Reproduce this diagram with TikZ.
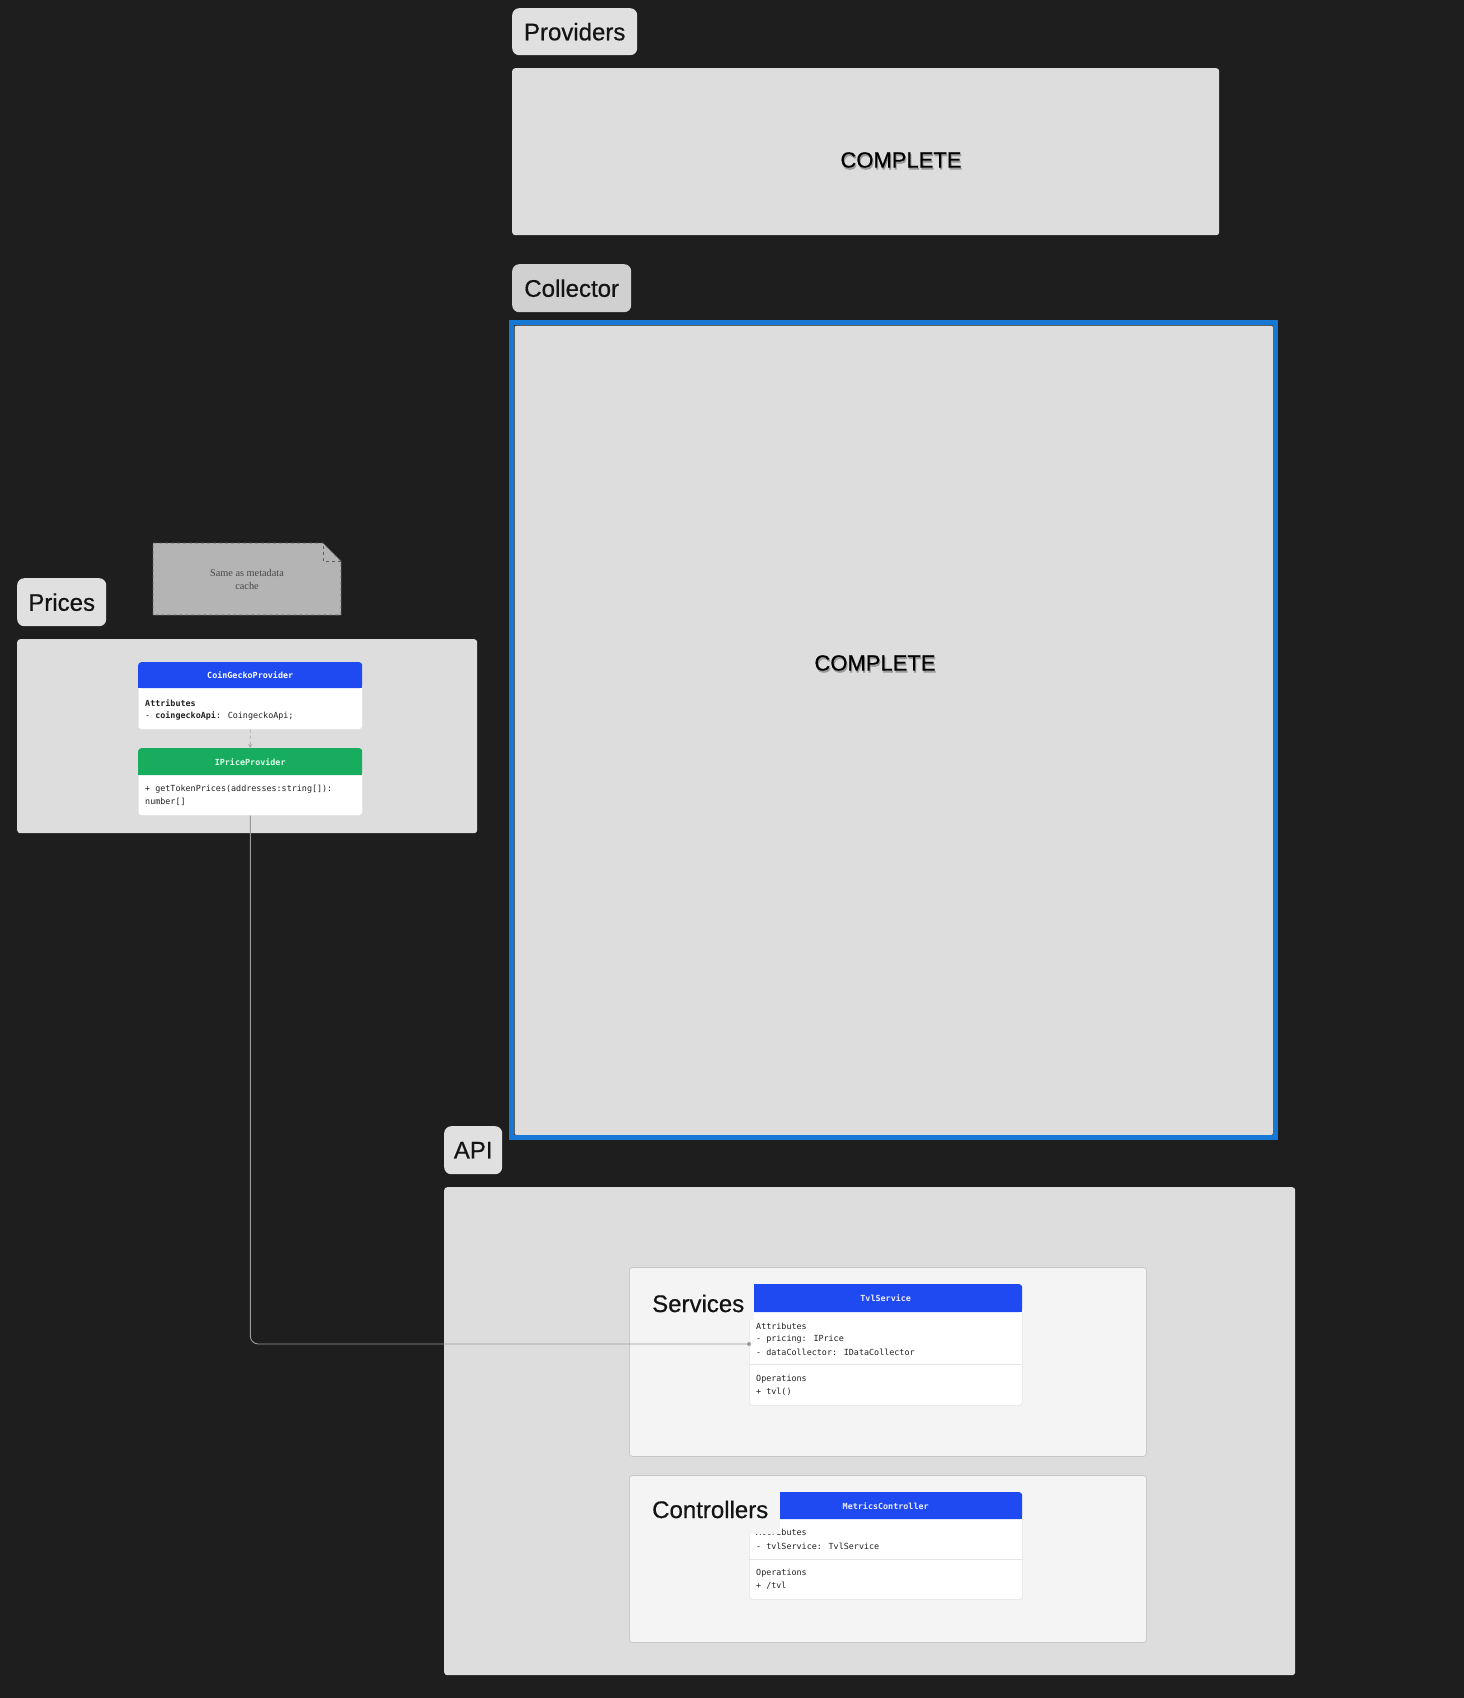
\documentclass[tikz,border=0pt]{standalone}
\usepackage{fontspec}
\setmainfont{Liberation Sans}
\newfontfamily\labelfont{Liberation Sans}[FakeBold=0.6]
\newfontfamily\monofont{DejaVu Sans Mono}
\newfontfamily\notefont{Liberation Serif}
\usetikzlibrary{arrows.meta}
\definecolor{bg}{HTML}{1E1E1E}
\definecolor{panel}{HTML}{DDDDDD}
\definecolor{labA}{HTML}{E0E0E0}
\definecolor{labB}{HTML}{D0D0D0}
\definecolor{selblue}{HTML}{1777D4}
\definecolor{hblue}{HTML}{1F4AF2}
\definecolor{hgreen}{HTML}{18AD5E}
\definecolor{notefill}{HTML}{B4B4B4}
\definecolor{noteline}{HTML}{5E5E5E}
\definecolor{subpanel}{HTML}{F4F4F4}
\definecolor{subline}{HTML}{C8C8C8}
\definecolor{wire}{HTML}{9A9A9A}
\definecolor{umlline}{HTML}{E4E4E4}
\definecolor{mint}{HTML}{DDFFEB}
\definecolor{txt}{HTML}{222222}
\tikzset{
  labelbox/.style={fill=#1, rounded corners=7pt, inner sep=0pt, anchor=north west,
    font=\labelfont\fontsize{24}{28}\selectfont, text=black!92},
  panelbox/.style={fill=panel, rounded corners=3pt, inner sep=0pt, anchor=north west},
  subbox/.style={fill=subpanel, draw=subline, line width=0.8pt, rounded corners=3pt, inner sep=0pt, anchor=north west},
  umlhead/.style={fill=#1, rounded corners=3pt, inner sep=0pt, anchor=north west,
    font=\monofont\bfseries\fontsize{8.4}{10}\selectfont},
  umlbody/.style={fill=white, draw=umlline, line width=0.6pt, rounded corners=3pt, inner sep=0pt, anchor=north west},
  mono/.style={font=\monofont\fontsize{8.4}{10}\selectfont, anchor=west, inner sep=0pt, text=txt},
  bigtext/.style={font=\labelfont\fontsize{24}{28}\selectfont, anchor=base west, inner sep=0pt, text=black!92},
  completetext/.style={font=\labelfont\fontsize{22}{26}\selectfont, inner sep=0pt},
  wireline/.style={draw=wire, line width=0.9pt},
}
\begin{document}
\begin{tikzpicture}[x=1pt,y=-1pt]
\fill[bg] (0,0) rectangle (1464,1698);
\useasboundingbox (0,0) rectangle (1464,1698);

% ---------- Providers ----------
\node[labelbox=labA, minimum width=125pt, minimum height=47pt] (provlab) at (512,8) {Providers};
\node[panelbox, minimum width=707pt, minimum height=167pt] (prov) at (512,68) {};
\node[completetext, text=black!50, opacity=0.7] at (902,162) {COMPLETE};
\node[completetext] (provtxt) at (901,160) {COMPLETE};

% ---------- Collector ----------
\node[labelbox=labB, minimum width=119pt, minimum height=48pt] (colllab) at (512,264) {Collector};
\node[panelbox, draw=black!75, line width=0.6pt, rounded corners=2pt, minimum width=759pt, minimum height=810pt] (coll) at (514,325) {};
\node[draw=selblue, line width=5pt, inner sep=0pt, minimum width=764pt, minimum height=815pt] (collsel) at (coll.center) {};
\node[completetext, text=black!50, opacity=0.7] at (876,665) {COMPLETE};
\node[completetext] (colltxt) at (875,663) {COMPLETE};

% ---------- Prices ----------
\node[labelbox=labA, minimum width=89pt, minimum height=48pt] (pricelab) at (17,578) {Prices};
\node[panelbox, minimum width=460pt, minimum height=194pt] (prices) at (17,639) {};

% note
\path[fill=notefill, draw=noteline, dashed, line width=0.8pt]
  (153,543) -- (323,543) -- (341,561) -- (341,615) -- (153,615) -- cycle;
\draw[noteline, dashed, line width=0.8pt] (323,546) -- (323,561) -- (341,561);
\node[font=\notefont\fontsize{10.3}{13}\selectfont, text=black!72, align=center, inner sep=0pt] (note) at (247,579.5) {Same as metadata\\cache};

% CoinGeckoProvider
\node[umlbody, minimum width=224pt, minimum height=45pt] (cgbody) at (138,684) {};
\node[umlhead=hblue, minimum width=224pt, minimum height=26pt] (cghead) at (138,662) {};
\fill[hblue] (cghead.west) rectangle (cghead.south east);
\node[font=\monofont\bfseries\fontsize{8.4}{10}\selectfont, text=white, inner sep=0pt] at (cghead.center) {CoinGeckoProvider};
\node[mono, font=\monofont\bfseries\fontsize{8.4}{10}\selectfont] (cga1) at (145,703) {Attributes};
\node[mono] (cga2) at (145,716) {- \textbf{coingeckoApi}: CoingeckoApi;};

% IPriceProvider
\node[umlbody, minimum width=224pt, minimum height=44pt] (ipbody) at (138,771) {};
\node[umlhead=hgreen, minimum width=224pt, minimum height=27pt] (iphead) at (138,748) {};
\fill[hgreen] (iphead.west) rectangle (iphead.south east);
\node[font=\monofont\bfseries\fontsize{8.4}{10}\selectfont, text=mint, inner sep=0pt] at (iphead.center) {IPriceProvider};
\node[mono] (ipo1) at (145,789) {+ getTokenPrices(addresses:string[]):};
\node[mono] (ipo2) at (145,802) {number[]};

\draw[draw=black!35, dashed, line width=0.8pt, -{Stealth[length=4pt,width=4pt]}] (cgbody.south) -- (iphead.north);

% ---------- API ----------
\node[labelbox=labA, minimum width=58pt, minimum height=48pt] (apilab) at (444,1126) {API};
\node[panelbox, minimum width=851pt, minimum height=488pt] (api) at (444,1187) {};

% Services
\node[subbox, minimum width=517pt, minimum height=189pt] (services) at (629,1267) {};
\node[umlbody, minimum width=273pt, minimum height=95pt] (tvlbody) at (749,1310) {};
\node[umlhead=hblue, minimum width=273pt, minimum height=28pt] (tvlhead) at (749,1284) {};
\fill[hblue] (tvlhead.west) rectangle (tvlhead.south east);
\node[font=\monofont\bfseries\fontsize{8.4}{10}\selectfont, text=white!92!blue, inner sep=0pt] at (tvlhead.center) {TvlService};
\draw[umlline, line width=0.8pt] (749,1364) -- (1022,1364);
\node[mono] (tvla1) at (756,1326) {Attributes};
\node[mono] (tvla2) at (756,1339) {- pricing: IPrice};
\node[mono] (tvla3) at (756,1352) {- dataCollector: IDataCollector};
\node[mono] (tvlo1) at (756,1379) {Operations};
\node[mono] (tvlo2) at (756,1392) {+ tvl()};
\fill[subpanel] (640,1275) rectangle (754,1320);
\node[bigtext] (servlab) at (652,1312) {Services};

% Controllers
\node[subbox, minimum width=517pt, minimum height=167pt] (controllers) at (629,1475) {};
\node[umlbody, minimum width=273pt, minimum height=82pt] (mcbody) at (749,1517) {};
\node[umlhead=hblue, minimum width=273pt, minimum height=27pt] (mchead) at (749,1492) {};
\fill[hblue] (mchead.west) rectangle (mchead.south east);
\node[font=\monofont\bfseries\fontsize{8.4}{10}\selectfont, text=white!92!blue, inner sep=0pt] at (mchead.center) {MetricsController};
\draw[umlline, line width=0.8pt] (749,1559) -- (1022,1559);
\node[mono] (mca1) at (756,1532) {Attributes};
\node[mono] (mca2) at (756,1546) {- tvlService: TvlService};
\node[mono] (mco1) at (756,1573) {Operations};
\node[mono] (mco2) at (756,1586) {+ /tvl};
\fill[subpanel] (640,1483) rectangle (780,1533.5);
\node[bigtext] (ctrllab) at (652,1518) {Controllers};

% ---------- connector ----------
\coordinate (wireend) at (749,1344);
\draw[wireline, rounded corners=8pt] (ipbody.south) |- (wireend);
\fill[wire] (wireend) circle (2pt);
\end{tikzpicture}
\end{document}
